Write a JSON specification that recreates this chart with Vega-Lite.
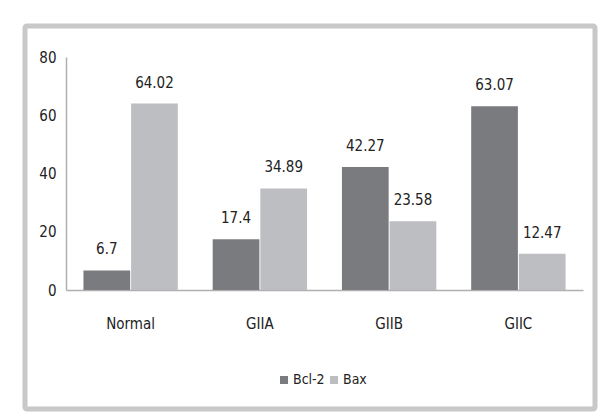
{
  "$schema": "https://vega.github.io/schema/vega-lite/v6.json",
  "autosize": "none",
  "width": 570,
  "height": 383,
  "padding": {"left": 25, "top": 26, "right": 9, "bottom": 8},
  "background": "white",
  "config": {
    "view": {"stroke": "#c8c8c8", "strokeWidth": 5, "fill": "white", "cornerRadius": 2},
    "font": "Liberation Sans Narrow, DejaVu Sans Condensed, sans-serif",
    "axis": {"labelFont": "Liberation Sans Narrow, DejaVu Sans Condensed, sans-serif", "labelColor": "#222222", "labelFontSize": 15, "domainColor": "#b0b0b0", "domainWidth": 1.5, "ticks": false, "grid": false, "title": null},
    "legend": {"labelFont": "Liberation Sans Narrow, DejaVu Sans Condensed, sans-serif"}
  },
  "data": {
    "values": [
      {"group": "Normal", "series": "Bcl-2", "value": 6.7},
      {"group": "Normal", "series": "Bax", "value": 64.02},
      {"group": "GIIA", "series": "Bcl-2", "value": 17.4},
      {"group": "GIIA", "series": "Bax", "value": 34.89},
      {"group": "GIIB", "series": "Bcl-2", "value": 42.27},
      {"group": "GIIB", "series": "Bax", "value": 23.58},
      {"group": "GIIC", "series": "Bcl-2", "value": 63.07},
      {"group": "GIIC", "series": "Bax", "value": 12.47}
    ]
  },
  "encoding": {
    "x": {
      "field": "group", "type": "nominal", "sort": ["Normal", "GIIA", "GIIB", "GIIC"],
      "scale": {"range": [41, 558], "paddingInner": 0.27, "paddingOuter": 0.135},
      "axis": {"orient": "bottom", "offset": -119, "labelAngle": 0, "labelPadding": 26, "labelFontSize": 15}
    },
    "xOffset": {"field": "series", "type": "nominal", "sort": ["Bcl-2", "Bax"], "scale": {"paddingInner": 0.02}},
    "y": {
      "field": "value", "type": "quantitative",
      "scale": {"domain": [0, 80], "range": [264, 31], "nice": false, "zero": true},
      "axis": {"orient": "left", "offset": -41, "values": [0, 20, 40, 60, 80], "labelPadding": 10}
    }
  },
  "layer": [
    {
      "mark": {"type": "bar"},
      "encoding": {
        "color": {
          "field": "series", "type": "nominal", "sort": ["Bcl-2", "Bax"],
          "scale": {"domain": ["Bcl-2", "Bax"], "range": ["#7a7b7f", "#bdbec1"]},
          "legend": {
            "title": null, "orient": "none", "legendX": 252, "legendY": 347, "direction": "horizontal",
            "symbolType": "square", "symbolSize": 64, "symbolStrokeWidth": 0, "labelFontSize": 14, "labelColor": "#222222",
            "columnPadding": 2, "labelOffset": 2
          }
        }
      }
    },
    {
      "mark": {"type": "text", "baseline": "bottom", "dy": -13, "fontSize": 15, "color": "#222222"},
      "encoding": {
        "text": {"field": "value", "type": "nominal"}
      }
    }
  ]
}
